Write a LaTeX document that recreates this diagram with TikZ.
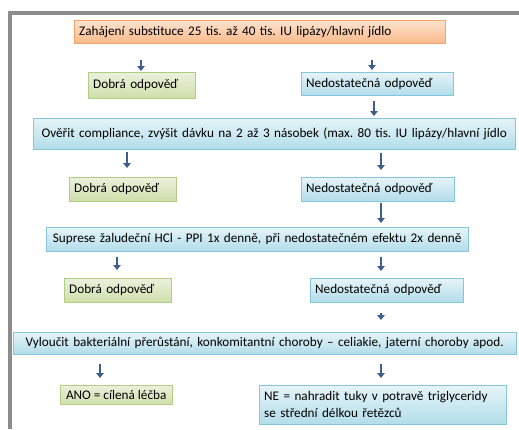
\documentclass[tikz,border=0pt]{standalone}
\usepackage{fontspec}
\setmainfont{Carlito}
\usetikzlibrary{arrows.meta,shadows}
\frenchspacing
\definecolor{frameC}{HTML}{8C8C8C}
\definecolor{orT}{HTML}{FDE3CF}
\definecolor{orB}{HTML}{F9B98A}
\definecolor{orD}{HTML}{F4A46A}
\definecolor{grT}{HTML}{EBF1DD}
\definecolor{grB}{HTML}{CFDFAA}
\definecolor{grD}{HTML}{B3CB82}
\definecolor{blT}{HTML}{E6F4F8}
\definecolor{blB}{HTML}{B2DDEA}
\definecolor{blD}{HTML}{86C6DA}
\definecolor{arrC}{HTML}{3E5E8C}
\tikzset{
  x=1pt, y=-1pt,
  base/.style={inner xsep=5pt, inner ysep=0pt, anchor=north west, font=\fontsize{13.2}{17}\selectfont,
    drop shadow={opacity=0.18, shadow xshift=1.2pt, shadow yshift=-1.2pt}},
  obox/.style={base, draw=orD, top color=orT, bottom color=orB},
  gbox/.style={base, draw=grD, top color=grT, bottom color=grB},
  bbox/.style={base, draw=blD, top color=blT, bottom color=blB},
  arr/.style 2 args={draw=arrC, line width=2.6pt, -{Triangle[width=7.5pt,length=5pt]}, shorten <=#1pt, shorten >=#2pt},
}
\begin{document}
\begin{tikzpicture}
\useasboundingbox (0,0) rectangle (519,429);
% frame
\draw[frameC, line width=3.5pt] (10,429) -- (10,13) -- (519,13);
% boxes
\node[obox, text width=361pt, minimum height=23pt, align=left] (b1) at (74,20) {Zahájení substituce 25 tis. až 40 tis. IU lipázy/hlavní jídlo};
\node[gbox, text width=97pt, minimum height=26pt, align=left] (b2) at (88,72) {Dobrá odpověď};
\node[bbox, text width=142pt, minimum height=23pt, align=left] (b3) at (301,72) {Nedostatečná odpověď};
\node[bbox, text width=472pt, minimum height=31pt, align=center] (b4) at (33,118) {Ověřit compliance, zvýšit dávku na 2 až 3 násobek (max. 80 tis. IU lipázy/hlavní jídlo};
\node[gbox, text width=97pt, minimum height=24pt, align=left] (b5) at (69,177) {Dobrá odpověď};
\node[bbox, text width=143pt, minimum height=24pt, align=left] (b6) at (301,177) {Nedostatečná odpověď};
\node[bbox, text width=412pt, minimum height=24pt, align=center] (b7) at (46,227) {Suprese žaludeční HCl - PPI 1x denně, při nedostatečném efektu 2x denně};
\node[gbox, text width=97pt, minimum height=24pt, align=left] (b8) at (64,278) {Dobrá odpověď};
\node[bbox, text width=143pt, minimum height=24pt, align=left] (b9) at (310,278) {Nedostatečná odpověď};
\node[bbox, text width=493pt, minimum height=22pt, align=center] (b10) at (13,332) {Vyloučit bakteriální přerůstání, konkomitantní choroby – celiakie, jaterní choroby apod.};
\node[gbox, minimum width=112pt, minimum height=19pt] (b11) at (60,385) {ANO~=~cílená~léčba};
\node[bbox, text width=237pt, minimum height=39pt, align=left] (b12) at (259,385) {NE = nahradit tuky v potravě triglyceridy\\se střední délkou řetězců};
% arrow columns
\coordinate (c1) at (141,0);
\coordinate (c2) at (372,0);
\coordinate (c3) at (374,0);
\coordinate (c4) at (127,0);
\coordinate (c5) at (381,0);
\coordinate (c6) at (117,0);
\coordinate (c7) at (100,0);
% arrows
\draw[arr={17}{1}] (b1.south -| c1) -- (b2.north -| c1);
\draw[arr={17}{2}] (b1.south -| c2) -- (b3.north -| c2);
\draw[arr={6}{2}] (b3.south -| c3) -- (b4.north -| c3);
\draw[arr={3}{9}] (b4.south -| c4) -- (b5.north -| c4);
\draw[arr={4}{7}] (b4.south -| c5) -- (b6.north -| c5);
\draw[arr={2}{4}] (b6.south -| c5) -- (b7.north -| c5);
\draw[arr={6}{8}] (b7.south -| c6) -- (b8.north -| c6);
\draw[arr={6}{7}] (b7.south -| c5) -- (b9.north -| c5);
\draw[arr={11}{12}] (b9.south -| c5) -- (b10.north -| c5);
\draw[arr={10}{7}] (b10.south -| c7) -- (b11.north -| c7);
\draw[arr={10}{7}] (b10.south -| c5) -- (b12.north -| c5);
\end{tikzpicture}
\end{document}
